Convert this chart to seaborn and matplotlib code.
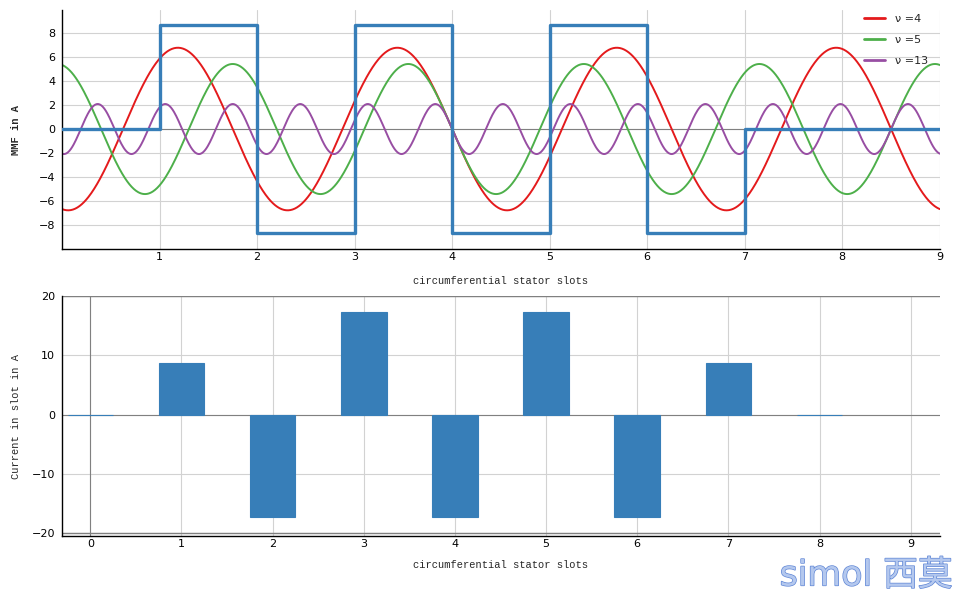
import numpy as np
import pandas as pd
import seaborn as sns
import matplotlib.pyplot as plt
import matplotlib.patheffects as pe

# slot currents (slots 0..8)
slots = [0, 1, 2, 3, 4, 5, 6, 7, 8]
slot_current = [0.0, 8.66, -17.32, 17.32, -17.32, 17.32, -17.32, 8.66, 0.0]
n_slots = 9
harmonic_orders = [4, 5, 13]
harmonic_colors = ['#e41a1c', '#4daf4a', '#984ea3']
step_color = '#377eb8'

sns.set_theme(style='white')
plt.rcParams['font.family'] = ['DejaVu Sans', 'Noto Sans CJK SC']

# MMF is the running sum of the slot currents, constant over each slot
mmf = np.cumsum(slot_current)
step_x = np.arange(n_slots + 1)
step_y = np.append(mmf, mmf[-1])

# harmonics of the step MMF (Fourier components over one period of 9 slots)
x = np.linspace(0, n_slots, 1200)
harm = {}
for nu in harmonic_orders:
    k = 2 * np.pi * nu / n_slots
    c = sum(m * (np.exp(-1j * k * a) - np.exp(-1j * k * (a + 1))) / (1j * k)
            for a, m in enumerate(mmf)) / n_slots
    harm[nu] = 2 * np.real(c * np.exp(1j * k * x))

fig = plt.figure(figsize=(9.71, 5.96), dpi=100)
ax1 = fig.add_axes([0.0639, 0.582, 0.904, 0.401])
ax2 = fig.add_axes([0.0639, 0.101, 0.904, 0.402])

label_font = dict(family='Liberation Mono', size=7.5)
grid_col = '#d2d2d2'

# --- top: MMF ---
for nu, col in zip(harmonic_orders, harmonic_colors):
    sns.lineplot(x=x, y=harm[nu], ax=ax1, color=col, lw=1.4,
                 label=f'\u03bd ={nu}', estimator=None, sort=False)
sns.lineplot(x=step_x, y=step_y, ax=ax1, color=step_color, lw=2.4,
             drawstyle='steps-post', estimator=None, sort=False, zorder=5)

ax1.set_xlim(0, 9)
ax1.set_ylim(-10, 9.9)
ax1.set_xticks(range(1, 10))
ax1.set_yticks(range(-8, 9, 2))
ax1.grid(True, color=grid_col, lw=0.8)
ax1.axhline(0, color='#808080', lw=0.8, zorder=1)
ax1.set_xlabel('circumferential stator slots', fontdict=label_font, labelpad=10)
ax1.set_ylabel('MMF in A', fontdict=dict(family='Liberation Mono', size=7.5,
                                          weight='bold'))
ax1.yaxis.set_label_coords(-0.047, 0.5)
leg = ax1.legend(loc='upper right', frameon=False, fontsize=8, handlelength=1.9,
                 handletextpad=0.9, labelspacing=1.0,
                 bbox_to_anchor=(0.998, 1.025))
for h in leg.get_lines():
    h.set_linewidth(2)
for s in ['top', 'right']:
    ax1.spines[s].set_visible(False)
for s in ['left', 'bottom']:
    ax1.spines[s].set_color('black')
    ax1.spines[s].set_linewidth(1.0)

# --- bottom: slot currents ---
df = pd.DataFrame({'slot': slots, 'current': slot_current})
sns.barplot(data=df, x='slot', y='current', ax=ax2, native_scale=True,
            width=0.5, color=step_color, saturation=1,
            edgecolor=step_color, linewidth=0.8, zorder=3)
ax2.set_xlim(-0.31, 9.32)
ax2.set_ylim(-20.5, 20)
ax2.set_xticks(range(0, 10))
ax2.set_yticks([-20, -10, 0, 10, 20])
ax2.grid(True, color=grid_col, lw=0.8)
ax2.axhline(0, color='#808080', lw=0.8, zorder=1)
ax2.axhline(20, color='#808080', lw=1.0, zorder=1)
ax2.axhline(-20, color='#808080', lw=1.0, zorder=1)
ax2.axvline(0, color='#808080', lw=0.8, zorder=1)
ax2.set_xlabel('circumferential stator slots', fontdict=label_font, labelpad=8)
ax2.set_ylabel('Current in slot in A', fontdict=label_font)
ax2.yaxis.set_label_coords(-0.047, 0.5)
for s in ['top', 'right']:
    ax2.spines[s].set_visible(False)
for s in ['left', 'bottom']:
    ax2.spines[s].set_color('black')
    ax2.spines[s].set_linewidth(1.0)

for ax in (ax1, ax2):
    ax.tick_params(axis='both', labelsize=8, colors='black', length=3,
                   width=0.8, direction='out', pad=2)
    ax.tick_params(axis='x', length=0)

# watermark
fig.text(0.981, 0.006, 'simol \u897f\u83ab', ha='right', va='bottom',
         fontsize=25, color='#b4c8ee', family=['DejaVu Sans', 'Noto Sans CJK SC'],
         path_effects=[pe.withStroke(linewidth=1.0, foreground='#5f86d6')])

fig.savefig('out.png', dpi=100)
